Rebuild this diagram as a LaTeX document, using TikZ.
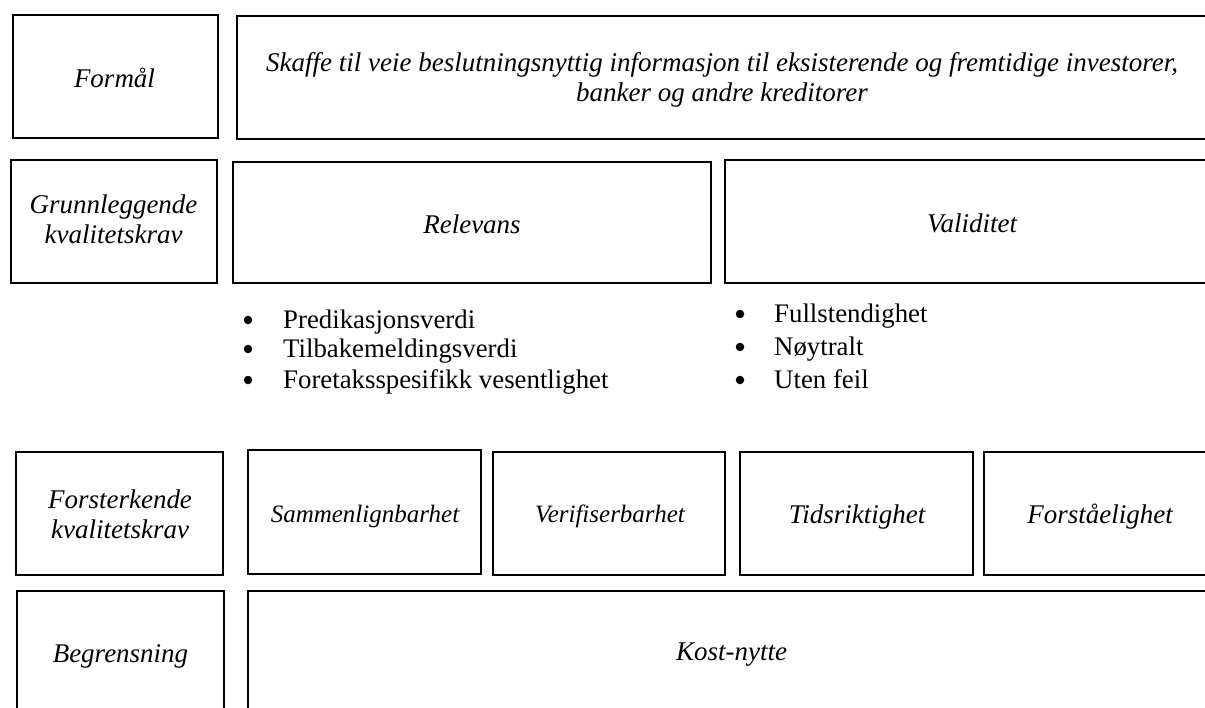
\documentclass[tikz,border=0pt]{standalone}
\usepackage{fontspec}
\setmainfont{Liberation Serif}
\begin{document}
\begin{tikzpicture}[x=1pt,y=-1pt,
  box/.style={draw, line width=1.7pt, inner sep=0pt, outer sep=0pt, anchor=north west},
  lbl/.style={font=\fontsize{27}{30}\selectfont\itshape, anchor=base, inner sep=0pt, align=center},
  slbl/.style={font=\fontsize{25}{30}\selectfont\itshape, anchor=base, inner sep=0pt},
  item/.style={font=\fontsize{26.8}{30}\selectfont, anchor=base west, inner sep=0pt},
  dot/.style={circle, fill=black, draw=none, minimum size=8.5pt, inner sep=0pt}]
\useasboundingbox (0,0) rectangle (1205,707);
\clip (0,0) rectangle (1205,707);
% row 1
\node[box, minimum width=205pt, minimum height=123pt] (formal) at (13,15) {};
\node[box, minimum width=979pt, minimum height=123pt] (skaffe) at (237,16) {};
\node[lbl] (tformal) at (114.5,87) {Formål};
\node[lbl] (tskaffe) at (722,101) {Skaffe til veie beslutningsnyttig informasjon til eksisterende og fremtidige investorer,\\ banker og andre kreditorer};
% row 2
\node[box, minimum width=206pt, minimum height=123pt] (grunn) at (11,160) {};
\node[box, minimum width=478pt, minimum height=121pt] (relevans) at (233,162) {};
\node[box, minimum width=494pt, minimum height=123pt] (validitet) at (725,160) {};
\node[lbl] (tgrunn) at (113.5,243) {Grunnleggende\\ kvalitetskrav};
\node[lbl] (trelevans) at (472,233) {Relevans};
\node[lbl] (tvaliditet) at (972,232) {Validitet};
% bullet lists
\node[dot] (d1) at (248,320) {};
\node[item] (i1) at (283,328) {Predikasjonsverdi};
\node[dot] (d2) at (248,349) {};
\node[item] (i2) at (283,357) {Tilbakemeldingsverdi};
\node[dot] (d3) at (248,380) {};
\node[item] (i3) at (283,388) {Foretaksspesifikk vesentlighet};
\node[dot] (d4) at (740,314) {};
\node[item] (i4) at (774,322) {Fullstendighet};
\node[dot] (d5) at (740,347) {};
\node[item] (i5) at (774,355) {Nøytralt};
\node[dot] (d6) at (740,380) {};
\node[item] (i6) at (774,388) {Uten feil};
% row 3
\node[box, minimum width=207pt, minimum height=123pt] (forst) at (16,452) {};
\node[box, minimum width=233pt, minimum height=124pt] (samm) at (248,450) {};
\node[box, minimum width=232pt, minimum height=123pt] (verif) at (493,452) {};
\node[box, minimum width=233pt, minimum height=123pt] (tids) at (740,452) {};
\node[box, minimum width=232pt, minimum height=123pt] (forsta) at (984,452) {};
\node[lbl] (tforst) at (120,538) {Forsterkende\\ kvalitetskrav};
\node[slbl] (tsamm) at (365,522) {Sammenlignbarhet};
\node[slbl] (tverif) at (610,522) {Verifiserbarhet};
\node[lbl] (ttids) at (857,523) {Tidsriktighet};
\node[lbl] (tforsta) at (1100,523) {Forståelighet};
% row 4
\node[box, minimum width=207pt, minimum height=124pt] (begr) at (17,591) {};
\node[box, minimum width=968pt, minimum height=124pt] (kost) at (248,591) {};
\node[lbl] (tbegr) at (120.5,662) {Begrensning};
\node[lbl] (tkost) at (731.5,660) {Kost-nytte};
\end{tikzpicture}
\end{document}
